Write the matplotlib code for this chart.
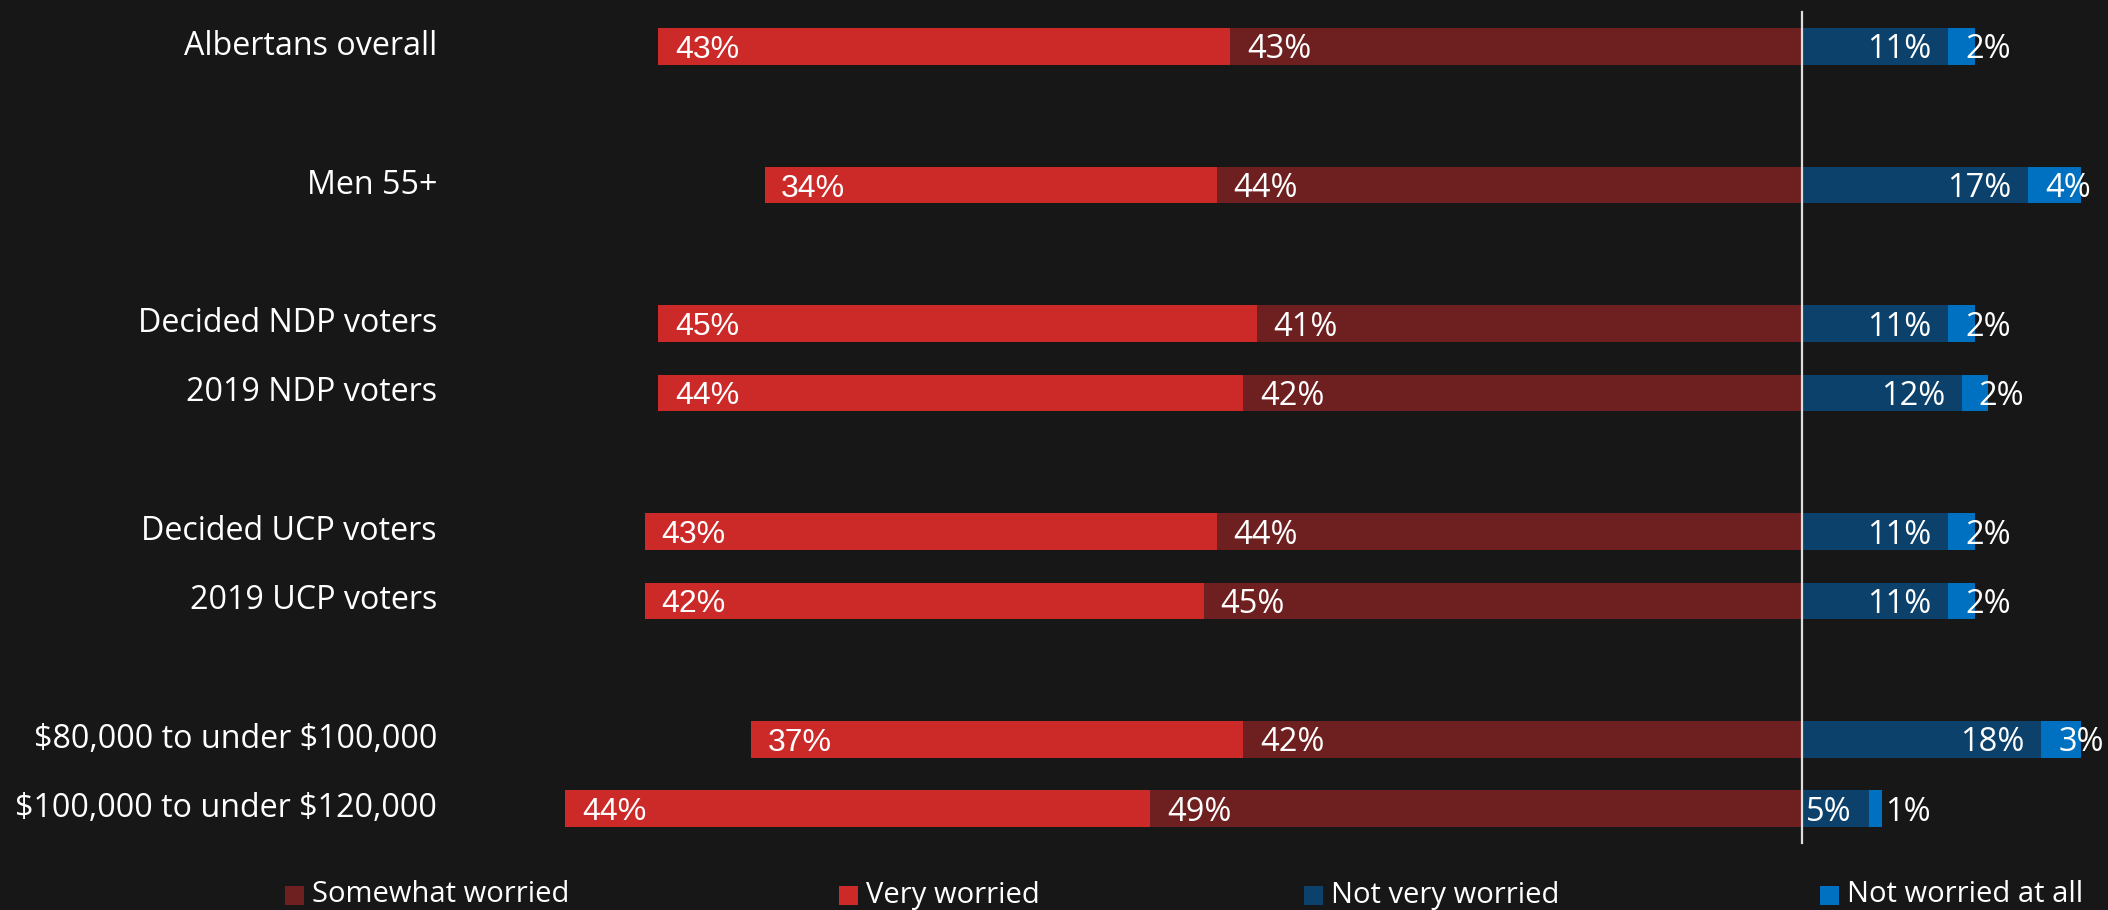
import matplotlib
matplotlib.use("Agg")
import matplotlib.pyplot as plt
from matplotlib.patches import Rectangle
from matplotlib.transforms import blended_transform_factory

plt.rcParams["text.parse_math"] = False

# ---- data ----
categories = ["Albertans overall", "Men 55+", "Decided NDP voters", "2019 NDP voters",
              "Decided UCP voters", "2019 UCP voters", "$80,000 to under $100,000",
              "$100,000 to under $120,000"]
very_worried = [43, 34, 45, 44, 43, 42, 37, 44]
somewhat_worried = [43, 44, 41, 42, 44, 45, 42, 49]
not_very_worried = [11, 17, 11, 12, 11, 11, 18, 5]
not_worried_at_all = [2, 4, 2, 2, 2, 2, 3, 1]
series_names = ["Somewhat worried", "Very worried", "Not very worried", "Not worried at all"]

# ---- layout ----
row_pos = [0, 2, 4, 5, 7, 8, 10, 11]
BG = "#171717"
C_VERY = "#CC2929"
C_SOME = "#6E1F1F"
C_NV = "#0C416B"
C_NA = "#0070C0"
TXT = "#FFFFFF"
FONT = ["Open Sans", "DejaVu Sans"]
FONT2 = ["Liberation Sans", "DejaVu Sans"]

W, H = 2108, 910
fig = plt.figure(figsize=(W / 100, H / 100), dpi=100, facecolor=BG)
ax = fig.add_axes([0, 0, 1, 1])
ax.set_facecolor(BG)
center_px, px_per = 1802, 13.3
ax.set_xlim(-center_px / px_per, (W - center_px) / px_per)
row_px, row_top = 69.3, 46.5
ax.set_ylim((H - row_top) / row_px, -row_top / row_px)
ax.axis("off")

bh = 0.53
for i, y in enumerate(row_pos):
    s, v = somewhat_worried[i], very_worried[i]
    nv, na = not_very_worried[i], not_worried_at_all[i]
    ax.barh(y, v, left=-(s + v), height=bh, color=C_VERY, linewidth=0)
    ax.barh(y, s, left=-s, height=bh, color=C_SOME, linewidth=0)
    ax.barh(y, nv, left=0, height=bh, color=C_NV, linewidth=0)
    ax.barh(y, na, left=nv, height=bh, color=C_NA, linewidth=0)
    ax.annotate(f"{v}%", (-(s + v), y), xytext=(12, -2.5), textcoords="offset points",
                ha="left", va="center", color=TXT, fontsize=23, family=FONT2)
    ax.annotate(f"{s}%", (-s, y), xytext=(12, -2.5), textcoords="offset points",
                ha="left", va="center", color=TXT, fontsize=23.5, family=FONT)
    ax.annotate(f"{nv}%", (nv, y), xytext=(-12, -2.5), textcoords="offset points",
                ha="right", va="center", color=TXT, fontsize=23.5, family=FONT)
    ax.annotate(f"{na}%", (nv, y), xytext=(12, -2.5), textcoords="offset points",
                ha="left", va="center", color=TXT, fontsize=23.5, family=FONT)

tr = blended_transform_factory(ax.transAxes, ax.transData)
for i, y in enumerate(row_pos):
    ax.text(437 / W, y, categories[i], transform=tr, ha="right", va="center",
            color=TXT, fontsize=23.2, family=FONT)

ax.plot([0, 0], [-0.5, 11.49], color="#DDDDDD", linewidth=1.6, zorder=5)

# legend
leg_colors = [C_SOME, C_VERY, C_NV, C_NA]
leg_x = [285, 839, 1304, 1820]
leg_y = 895
sq = 19
for name, col, lx in zip(series_names, leg_colors, leg_x):
    fig.patches.append(Rectangle((lx / W, (H - leg_y - sq / 2) / H), sq / W, sq / H,
                                 transform=fig.transFigure, facecolor=col, linewidth=0))
    fig.text((lx + sq + 8) / W, (H - leg_y) / H, name, ha="left", va="center",
             color=TXT, fontsize=21, family=FONT)

fig.savefig("out.png", dpi=100, facecolor=BG)
